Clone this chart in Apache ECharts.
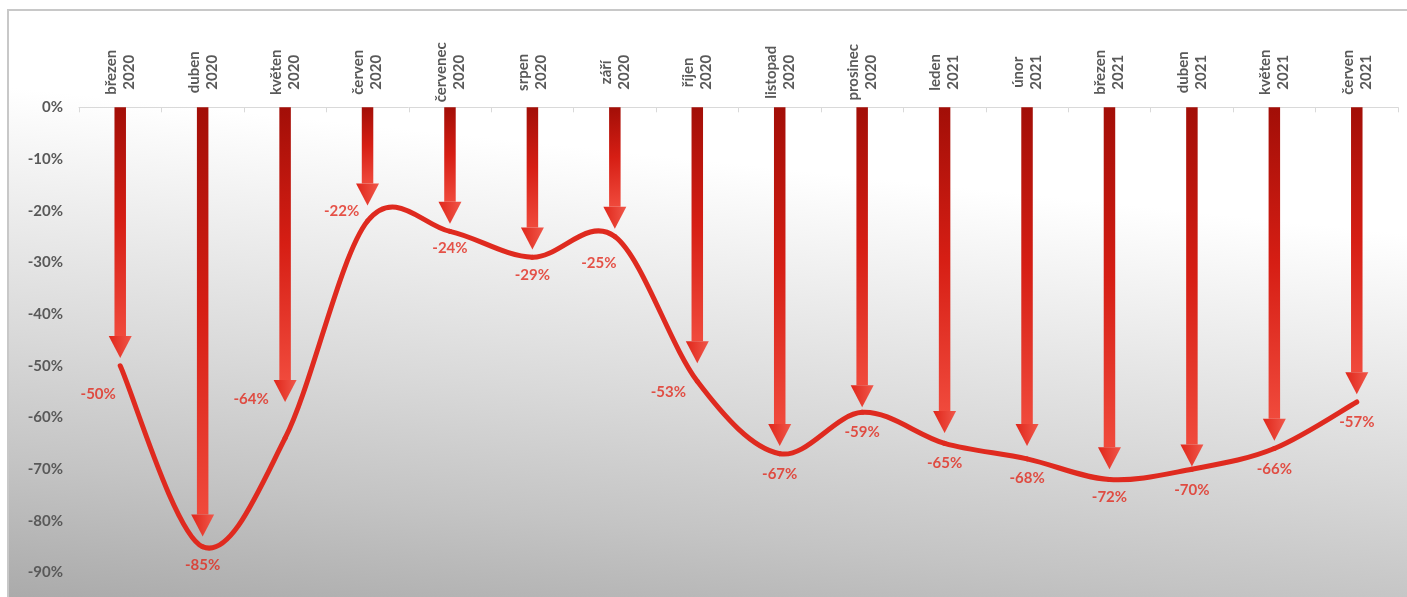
<!DOCTYPE html>
<html><head><meta charset="utf-8">
<script src="https://cdn.jsdelivr.net/npm/echarts@6/dist/echarts.min.js"></script>
<style>
html,body{margin:0;padding:0;background:#fff;width:1407px;height:597px;overflow:hidden;position:relative}
#frame{position:absolute;left:7px;top:9px;width:1410px;height:600px;border-left:2px solid #c8c8c8;border-top:2px solid #c8c8c8;
background:linear-gradient(186deg,#ffffff 0%,#ffffff 30%,#f0f0f0 43%,#d9d9d9 63%,#c4c4c4 80%,#a8a8a8 100%)}
#chart{position:absolute;left:0;top:0;width:1407px;height:597px}
</style></head>
<body>
<div id="frame"></div>
<div id="chart"></div>
<script>
// ---- data ----
const months = ['březen','duben','květen','červen','červenec','srpen','září','říjen','listopad','prosinec','leden','únor','březen','duben','květen','červen'];
const years  = ['2020','2020','2020','2020','2020','2020','2020','2020','2020','2020','2021','2021','2021','2021','2021','2021'];
const changePct = [-50,-85,-64,-22,-24,-29,-25,-53,-67,-59,-65,-68,-72,-70,-66,-57];
const arrowEndPct = [-48.5,-83,-57,-19,-22.5,-27.5,-23.5,-49.5,-65.5,-58,-63,-65.5,-70,-69.5,-64.5,-55.5];
const yTicks = [0,-10,-20,-30,-40,-50,-60,-70,-80,-90];

// ---- layout (label offsets in px, not data) ----
const labelOffsets = [[-22,28],[0,18],[-34,-39],[-26,-10],[0,17],[0,18],[-16,27],[-29,11],[0,20],[0,20],[0,20],[0,19],[0,18],[0,21],[0,21],[0,20]];

const categories = months.map((m,i)=> m + '\n' + years[i]);
const FONT = 'Lato, "Open Sans", sans-serif';

const chart = echarts.init(document.getElementById('chart'), null, {renderer:'canvas'});

function lineRender(params, api){
  const i = params.dataIndex;
  const n = changePct.length;
  if (i >= n-1) return null;
  const P = j => api.coord([Math.max(0,Math.min(n-1,j)), changePct[Math.max(0,Math.min(n-1,j))]]);
  const p0 = P(i-1), p1 = P(i), p2 = P(i+1), p3 = P(i+2);
  const c1 = [p1[0] + (p2[0]-p0[0])/6, p1[1] + (p2[1]-p0[1])/6];
  const c2 = [p2[0] - (p3[0]-p1[0])/6, p2[1] - (p3[1]-p1[1])/6];
  return {
    type:'bezierCurve',
    shape:{x1:p1[0],y1:p1[1],x2:p2[0],y2:p2[1],cpx1:c1[0],cpy1:c1[1],cpx2:c2[0],cpy2:c2[1]},
    style:{stroke:'#df2a1f',lineWidth:5,fill:null,lineCap:'round'}
  };
}

function arrowRender(params, api){
  const i = params.dataIndex;
  const top = api.coord([i, 0]);
  const tip = api.coord([i, api.value(1)]);
  const sw = 11.5, hw = 23, hh = 22;
  const x = top[0];
  return {
    type:'group',
    children:[
      {type:'rect', shape:{x:x-sw/2, y:top[1], width:sw, height:Math.max(0,tip[1]-hh-top[1])},
       style:{fill:new echarts.graphic.LinearGradient(0,0,1,1,[
         {offset:0,color:'#a20e07'},{offset:0.5,color:'#d61e14'},{offset:1,color:'#f04a3c'}])}},
      {type:'polygon', shape:{points:[[x-hw/2,tip[1]-hh],[x+hw/2,tip[1]-hh],[x,tip[1]]]},
       style:{fill:new echarts.graphic.LinearGradient(0,0,1,0,[
         {offset:0,color:'#e0261a'},{offset:1,color:'#f0574a'}])}}
    ]
  };
}

chart.setOption({
  animation:false,
  backgroundColor:'transparent',
  grid:{left:79, right:9, top:107.3, height:517, outerBoundsMode:'none', containLabel:false},
  xAxis:{
    type:'category', position:'top', data:categories, boundaryGap:true,
    axisLine:{show:true, lineStyle:{color:'#d9d9d9', width:1}},
    axisTick:{show:true, inside:true, length:5, lineStyle:{color:'#d9d9d9'}},
    axisLabel:{interval:0, rotate:90, align:'center', verticalAlign:'middle', margin:35,
      fontSize:15, fontWeight:'bold', color:'#595959', lineHeight:18, fontFamily:FONT},
    splitLine:{show:false}
  },
  yAxis:{
    type:'value', min:-100, max:0, interval:10,
    axisLine:{show:false}, axisTick:{show:false}, splitLine:{show:false},
    axisLabel:{margin:16, fontSize:15, fontWeight:'bold', color:'#595959', fontFamily:FONT,
      formatter: v => (yTicks.indexOf(v) >= 0 ? v + '%' : '')}
  },
  series:[
    {type:'custom', name:'arrows', renderItem:arrowRender, z:2,
     data: arrowEndPct.map((v,i)=>[i,v]), silent:true},
    {type:'custom', name:'line', renderItem:lineRender, z:3,
     data: changePct.map((v,i)=>[i,v]), silent:true},
    {type:'scatter', name:'labels', z:4, symbolSize:1, itemStyle:{color:'rgba(0,0,0,0)'}, silent:true,
     data: changePct.map((v,i)=>({value:[i,v], label:{offset:labelOffsets[i]}})),
     label:{show:true, position:'inside', formatter: p => p.value[1] + '%',
       fontSize:15, fontWeight:'bold', color:'#e2291d', fontFamily:FONT}}
  ]
});
</script>
</body></html>
